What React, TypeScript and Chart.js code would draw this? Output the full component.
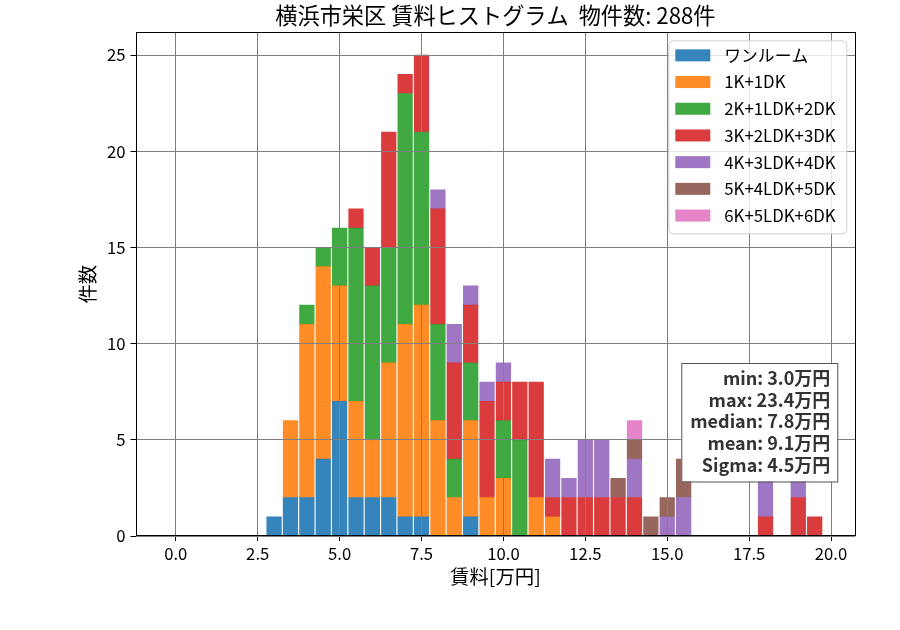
import { useEffect, useRef } from 'react';
import { Chart, registerables } from 'chart.js';

Chart.register(...registerables);

const FONT = "'Noto Sans CJK JP', 'Noto Sans', sans-serif";

const TITLE = '横浜市栄区 賃料ヒストグラム  物件数: 288件';
const X_LABEL = '賃料[万円]';
const Y_LABEL = '件数';

// bin centres (万円)
const bins = [
  3.0, 3.5, 4.0, 4.5, 5.0, 5.5, 6.0, 6.5, 7.0, 7.5, 8.0, 8.5, 9.0, 9.5, 10.0,
  10.5, 11.0, 11.5, 12.0, 12.5, 13.0, 13.5, 14.0, 14.5, 15.0, 15.5, 16.0, 16.5,
  17.0, 17.5, 18.0, 18.5, 19.0, 19.5, 20.0
];

const oneRoom = [1, 2, 2, 4, 7, 2, 2, 2, 1, 1, 0, 0, 1, 0, 0, 0, 0, 0, 0, 0, 0, 0, 0, 0, 0, 0, 0, 0, 0, 0, 0, 0, 0, 0, 0];
const k1 = [0, 4, 9, 10, 6, 5, 3, 7, 10, 11, 6, 2, 5, 2, 3, 0, 2, 1, 0, 0, 0, 0, 0, 0, 0, 0, 0, 0, 0, 0, 0, 0, 0, 0, 0];
const k2 = [0, 0, 1, 1, 3, 9, 8, 6, 12, 9, 5, 2, 3, 0, 3, 5, 0, 0, 0, 0, 0, 0, 0, 0, 0, 0, 0, 0, 0, 0, 0, 0, 0, 0, 0];
const k3 = [0, 0, 0, 0, 0, 1, 2, 6, 1, 4, 6, 5, 3, 5, 2, 3, 6, 1, 2, 2, 2, 2, 2, 0, 0, 0, 0, 0, 0, 0, 1, 0, 2, 1, 0];
const k4 = [0, 0, 0, 0, 0, 0, 0, 0, 0, 0, 1, 2, 1, 1, 1, 0, 0, 2, 1, 3, 3, 0, 2, 0, 1, 2, 0, 0, 0, 0, 3, 0, 2, 0, 0];
const k5 = [0, 0, 0, 0, 0, 0, 0, 0, 0, 0, 0, 0, 0, 0, 0, 0, 0, 0, 0, 0, 0, 1, 1, 1, 1, 2, 0, 0, 0, 0, 0, 0, 0, 0, 0];
const k6 = [0, 0, 0, 0, 0, 0, 0, 0, 0, 0, 0, 0, 0, 0, 0, 0, 0, 0, 0, 0, 0, 0, 1, 0, 0, 0, 0, 0, 0, 0, 0, 0, 0, 0, 0];

const seriesLabels = ['ワンルーム', '1K+1DK', '2K+1LDK+2DK', '3K+2LDK+3DK', '4K+3LDK+4DK', '5K+4LDK+5DK', '6K+5LDK+6DK'];
const seriesValues = [oneRoom, k1, k2, k3, k4, k5, k6];
const seriesColors = [
  'rgba(31,119,180,0.9)',
  'rgba(255,127,14,0.9)',
  'rgba(44,160,44,0.9)',
  'rgba(214,39,40,0.9)',
  'rgba(148,103,189,0.9)',
  'rgba(140,86,75,0.9)',
  'rgba(227,119,194,0.9)'
];

const xTicks = [0, 2.5, 5, 7.5, 10, 12.5, 15, 17.5, 20];
const yTicks = [0, 5, 10, 15, 20, 25];

const stats = ['min: 3.0万円', 'max: 23.4万円', 'median: 7.8万円', 'mean: 9.1万円', 'Sigma: 4.5万円'];

// legend box, stats box and the full axes frame
const overlay = {
  id: 'overlay',
  afterDraw(chart: Chart) {
    const { ctx, chartArea } = chart;
    ctx.save();

    // frame
    ctx.strokeStyle = '#000';
    ctx.lineWidth = 1;
    ctx.strokeRect(
      Math.round(chartArea.left) + 0.5,
      Math.round(chartArea.top) + 0.5,
      Math.round(chartArea.right - chartArea.left) - 1,
      Math.round(chartArea.bottom - chartArea.top) - 1
    );

    // legend
    const lx = chartArea.right - 187;
    const ly = chartArea.top + 8;
    ctx.beginPath();
    ctx.roundRect(lx + 0.5, ly + 0.5, 178, 193, 4);
    ctx.fillStyle = 'rgba(255,255,255,0.8)';
    ctx.fill();
    ctx.strokeStyle = '#d0d0d0';
    ctx.stroke();
    ctx.font = `16.8px ${FONT}`;
    ctx.textBaseline = 'middle';
    ctx.textAlign = 'left';
    chart.data.datasets.forEach((ds, i) => {
      const cy = ly + 15 + i * 26.7;
      ctx.fillStyle = ds.backgroundColor as string;
      ctx.fillRect(lx + 7, cy - 6, 35, 12);
      ctx.fillStyle = '#000';
      ctx.fillText(ds.label as string, lx + 56, cy);
    });

    // stats box
    const sr = chartArea.right - 18;
    const sb = chartArea.bottom - 54.5;
    const sh = 118.5;
    ctx.fillStyle = '#fff';
    ctx.fillRect(sr - 156, sb - sh, 156, sh);
    ctx.strokeStyle = '#555';
    ctx.strokeRect(sr - 156 + 0.5, sb - sh + 0.5, 156, sh);
    ctx.font = `bold 18px ${FONT}`;
    ctx.fillStyle = '#333';
    ctx.textAlign = 'right';
    stats.forEach((s, i) => {
      ctx.fillText(s, sr - 7, sb - sh + 15 + i * 21.8);
    });

    ctx.restore();
  }
};

export default function App() {
  const canvasRef = useRef<HTMLCanvasElement>(null);
  const chartRef = useRef<Chart | null>(null);

  useEffect(() => {
    document.body.style.margin = '0';
    if (!canvasRef.current) return;
    const ctx = canvasRef.current.getContext('2d');
    if (!ctx) return;

    if (chartRef.current) {
      chartRef.current.destroy();
    }

    chartRef.current = new Chart(ctx, {
      type: 'bar',
      data: {
        datasets: seriesLabels.map((label, i) => ({
          label,
          // empty bins are skipped so no hairline is drawn for them
          data: bins.map((b, j) => ({ x: b, y: seriesValues[i][j] || null })),
          backgroundColor: seriesColors[i],
          borderWidth: 0,
          barThickness: 14.6
        }))
      },
      options: {
        responsive: false,
        animation: false,
        devicePixelRatio: 1,
        layout: { padding: { left: 0, right: 44.7, top: 0, bottom: 0 } },
        plugins: {
          legend: { display: false },
          tooltip: { enabled: false },
          title: {
            display: true,
            fullSize: false,
            text: TITLE,
            color: '#000',
            font: { family: FONT, size: 22.2, weight: 'normal' },
            padding: { top: 2.5, bottom: 3.2 }
          }
        },
        scales: {
          x: {
            type: 'linear',
            stacked: true,
            offset: false,
            min: -1.23,
            max: 20.74,
            afterBuildTicks: (scale) => {
              scale.ticks = xTicks.map((v) => ({ value: v }));
            },
            afterFit: (scale) => {
              scale.height = 94;
            },
            grid: {
              z: 1,
              offset: false,
              color: '#808080',
              lineWidth: 1,
              tickColor: '#000',
              tickLength: 5
            },
            border: { display: false },
            ticks: {
              color: '#000',
              padding: 3,
              maxRotation: 0,
              font: { family: FONT, size: 16.7 },
              callback: (v) => Number(v).toFixed(1)
            },
            title: {
              display: true,
              text: X_LABEL,
              color: '#000',
              font: { family: FONT, size: 19.4 },
              padding: { top: 0, bottom: 41.4 }
            }
          },
          y: {
            stacked: true,
            min: 0,
            max: 26.18,
            afterBuildTicks: (scale) => {
              scale.ticks = yTicks.map((v) => ({ value: v }));
            },
            afterFit: (scale) => {
              scale.width = 135.5;
            },
            grid: {
              z: 1,
              color: '#808080',
              lineWidth: 1,
              tickColor: '#000',
              tickLength: 5
            },
            border: { display: false },
            ticks: {
              color: '#000',
              padding: 5,
              font: { family: FONT, size: 16.7 }
            },
            title: {
              display: true,
              text: Y_LABEL,
              color: '#000',
              font: { family: FONT, size: 19.4 },
              padding: { top: 76, bottom: 0 }
            }
          }
        }
      },
      plugins: [overlay]
    });

    return () => {
      if (chartRef.current) {
        chartRef.current.destroy();
        chartRef.current = null;
      }
    };
  }, []);

  return <canvas ref={canvasRef} width={900} height={630} />;
}
